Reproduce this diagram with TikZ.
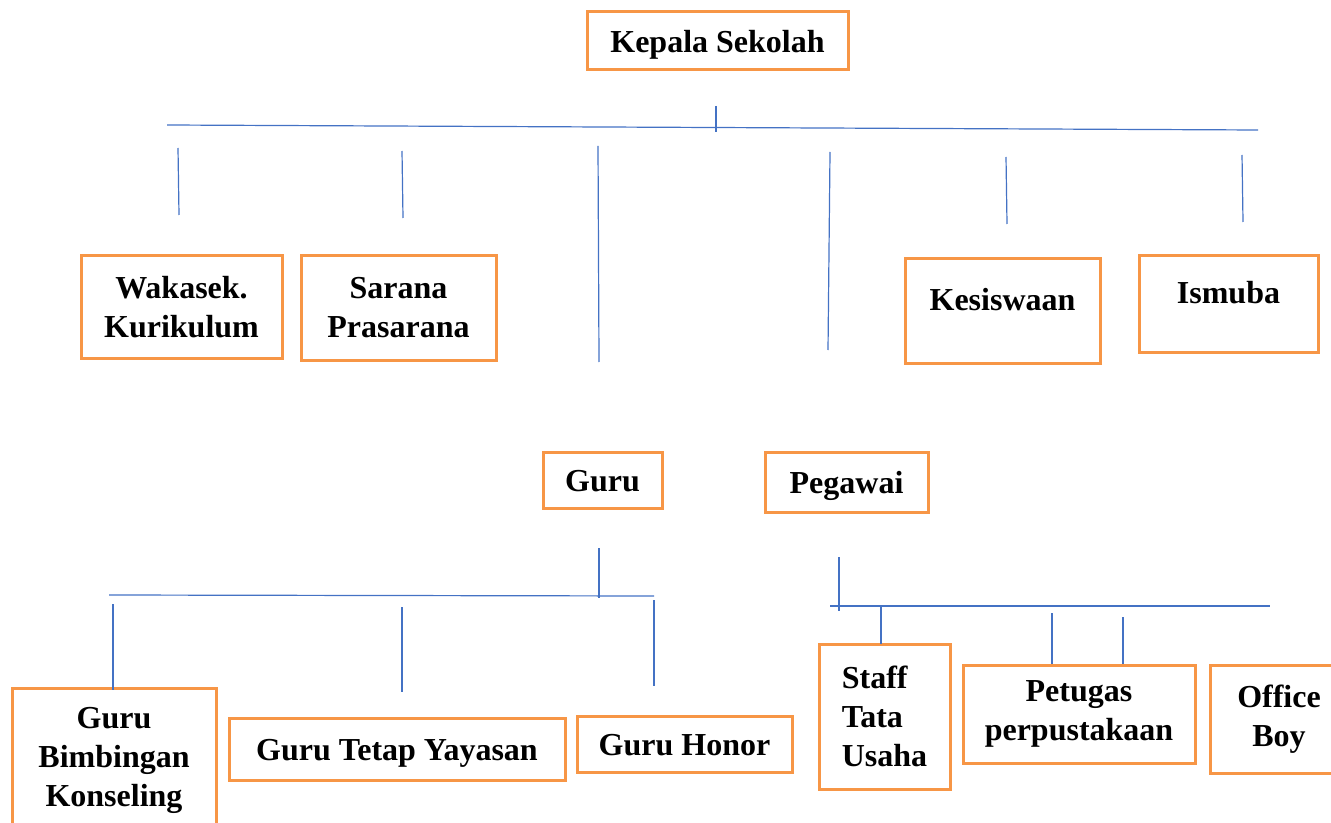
\documentclass[tikz,border=0pt]{standalone}
\usepackage{fontspec}
\setmainfont{Liberation Serif}
\usepackage{xcolor}
\usepackage{tikz}
\usetikzlibrary{calc,positioning}
\definecolor{boxorange}{HTML}{F79646}
\definecolor{lineblue}{HTML}{4472C4}

\begin{document}
\begin{tikzpicture}[x=0.5pt,y=-0.5pt]
				\tikzstyle{box}=[rectangle, draw=boxorange, line width=1.5pt, fill=white, font=\fontsize{16}{19.5}\selectfont\bfseries, align=center, inner sep=2pt]
				\tikzstyle{link}=[draw=lineblue, line width=0.6pt]
				\tikzstyle{hightext}=[text height=11pt, text depth=11pt]
				\tikzstyle{lowtext}=[text height=15pt, text depth=3.5pt]
				\useasboundingbox (0,0) rectangle (1331,823);
				\clip (0,0) rectangle (1331,823);
				\node[box, lowtext, minimum width=130.5pt, minimum height=29pt] (kepala) at (717.5,41) {Kepala Sekolah};
				\node[box, minimum width=100.5pt, minimum height=51pt] (wakasek) at (181.5,307) {Wakasek.\\Kurikulum};
				\node[box, minimum width=97.5pt, minimum height=52pt] (sarana) at (398.5,308) {Sarana\\Prasarana};
				\node[box, hightext, minimum width=97.5pt, minimum height=52pt] (kesiswaan) at (1002.5,311) {Kesiswaan};
				\node[box, hightext, minimum width=89.5pt, minimum height=48pt] (ismuba) at (1228.5,304) {Ismuba};
				\node[box, lowtext, minimum width=59.5pt, minimum height=28pt] (guru) at (602.5,480) {Guru};
				\node[box, lowtext, minimum width=81.5pt, minimum height=30pt] (pegawai) at (846.5,482) {Pegawai};
				\node[box, minimum width=102pt, minimum height=72pt] (gurubk) at (114,760) {Guru\\Bimbingan\\Konseling};
				\node[box, lowtext, minimum width=168pt, minimum height=31pt] (gurutetap) at (397,749) {Guru Tetap Yayasan};
				\node[box, lowtext, minimum width=107.5pt, minimum height=28pt] (guruhonor) at (684.5,744) {Guru Honor};
				\node[box, align=left, minimum width=65.5pt, minimum height=72.5pt] (staff) at (884.5,716.5) {Staff\\Tata\\Usaha};
				\node[box, minimum width=116pt, minimum height=49pt] (petugas) at (1079,714) {Petugas\\perpustakaan};
				\node[box, minimum width=69pt, minimum height=54pt] (office) at (1279,719) {Office\\Boy};
				\foreach \n/\a/\b/\c/\d in {top/716/106/716/132, main/167/125/1258/130,
						wk/178/148/179/215, sp/402/151/403/218, gr/598/146/599/362,
						pg/830/152/828/350, ks/1006/157/1007/224, is/1242/155/1243/222,
						grup/599/548/599/598, grbar/109/595/654/596, bk/113/604/113/690,
						gty/402/607/402/692, gh/654/600/654/686,
						pgup/839/557/839/611, pgbar/830/606/1270/606, tu/881/606/881/644,
						pp1/1052/613/1052/664, pp2/1123/617/1123/664}
				{
					\coordinate (\n-s) at (\a,\b);
					\coordinate (\n-e) at (\c,\d);
					\draw[link] (\n-s) -- (\n-e);
				}
			\end{tikzpicture}
\end{document}
